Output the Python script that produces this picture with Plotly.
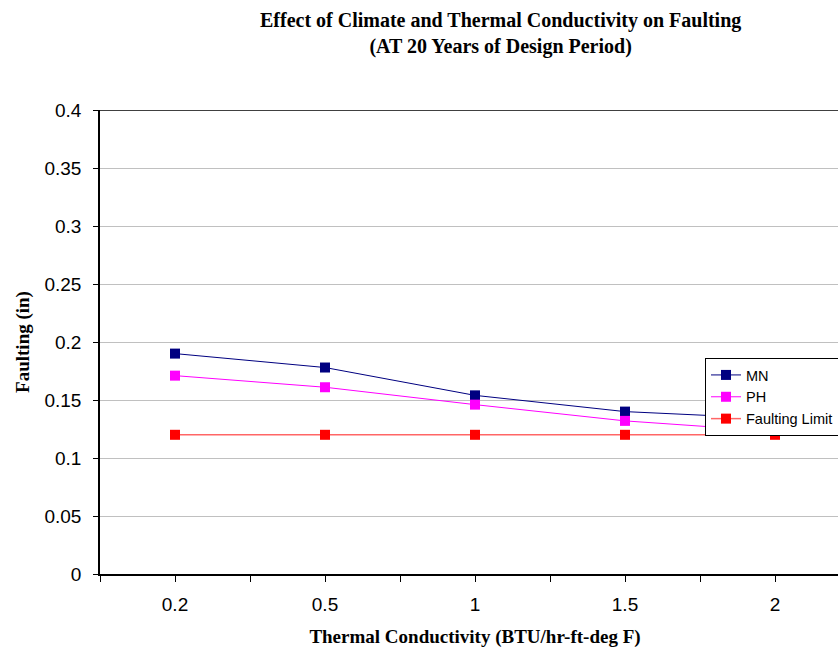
import plotly.graph_objects as go

categories = ["0.2", "0.5", "1", "1.5", "2"]
mn = [0.190, 0.178, 0.154, 0.140, 0.134]
ph = [0.171, 0.161, 0.146, 0.132, 0.123]
limit = [0.12, 0.12, 0.12, 0.12, 0.12]
y_ticks = [0, 0.05, 0.1, 0.15, 0.2, 0.25, 0.3, 0.35, 0.4]

idx = list(range(len(categories)))

fig = go.Figure()
fig.add_trace(go.Scatter(x=idx, y=mn, name="MN", mode="lines+markers",
                         line=dict(color="#000080", width=1),
                         marker=dict(symbol="square", size=10, color="#000080")))
fig.add_trace(go.Scatter(x=idx, y=ph, name="PH", mode="lines+markers",
                         line=dict(color="#FF00FF", width=1),
                         marker=dict(symbol="square", size=10, color="#FF00FF")))
fig.add_trace(go.Scatter(x=idx, y=limit, name="Faulting Limit", mode="lines+markers",
                         line=dict(color="#FF6666", width=1.5),
                         marker=dict(symbol="square", size=10, color="#FF0000")))

tickvals = []
ticktext = []
for i, c in enumerate(categories):
    tickvals += [i - 0.5, i]
    ticktext += ["", c]
tickvals.append(len(categories) - 0.5)
ticktext.append("")

fig.update_layout(
    width=870, height=651,
    margin=dict(l=100, r=20, t=110, b=77),
    paper_bgcolor="white", plot_bgcolor="white",
    xaxis=dict(range=[-0.5, 4.5], tickmode="array", tickvals=tickvals, ticktext=ticktext,
               automargin=False,
               showgrid=False, zeroline=False, showline=True, linecolor="black", linewidth=1.5,
               ticks="outside", ticklen=6, tickcolor="black", ticklabelstandoff=6,
               tickfont=dict(family="Liberation Sans", size=19, color="black"),
               title=dict(text="<b>Thermal Conductivity (BTU/hr-ft-deg F)</b>", standoff=16,
                          font=dict(family="Liberation Serif", size=19, color="black"))),
    yaxis=dict(range=[0, 0.4], tickmode="array", tickvals=y_ticks,
               ticktext=[f"{v:g}" for v in y_ticks], automargin=False,
               showgrid=True, gridcolor="#c0c0c0", gridwidth=1, zeroline=False,
               showline=True, linecolor="black", linewidth=1.5,
               ticks="outside", ticklen=5, tickcolor="black", ticklabelstandoff=8,
               tickfont=dict(family="Liberation Sans", size=19, color="black"),
               title=dict(text="<b>Faulting (in)</b>", standoff=10,
                          font=dict(family="Liberation Serif", size=19, color="black"))),
    legend=dict(x=(705 - 100) / 750, xanchor="left", y=(574 - 358) / 464, yanchor="top",
                bgcolor="white", bordercolor="black", borderwidth=1,
                font=dict(family="Liberation Sans", size=14.5, color="black"),
                tracegroupgap=0, itemwidth=30),
    showlegend=True,
)
fig.add_annotation(text="<b>Effect of Climate and Thermal Conductivity on Faulting<br>(AT 20 Years of Design Period)</b>",
                   xref="paper", yref="paper", x=(500 - 100) / 750, y=1 + (110 - 33) / 464,
                   xanchor="center", yanchor="middle", showarrow=False,
                   font=dict(family="Liberation Serif", size=20, color="black"))
fig.add_shape(type="line", xref="paper", yref="y", x0=0, x1=1, y0=0.4, y1=0.4,
              line=dict(color="black", width=1.5))

fig.write_html("out.html")
